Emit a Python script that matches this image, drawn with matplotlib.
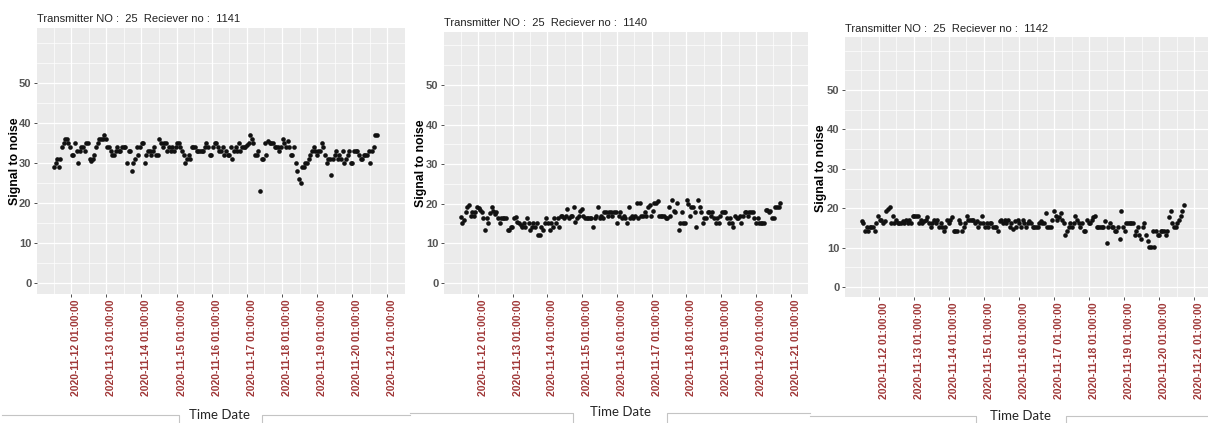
import numpy as np
import pandas as pd
import matplotlib
matplotlib.use("Agg")
import matplotlib.pyplot as plt
import matplotlib.dates as mdates
from matplotlib.lines import Line2D

plt.rcParams['font.family'] = ['Liberation Sans', 'DejaVu Sans']

W, H = 1208, 423

# signal-to-noise readings per receiver (transmitter 25)
snr_1141 = [29, 30, 31, 29, 31, 34, 35, 36, 36, 35, 34, 32, 32, 35, 33, 30, 33, 34, 34, 33,
            35, 35, 31, 30.5, 31, 32, 34, 35, 36, 36, 36, 37, 36, 34, 34, 33, 32, 32, 33, 34,
            33, 33, 34, 34, 34, 30, 33, 33, 28, 30, 31, 34, 32, 34, 35, 35, 30, 32, 33, 33,
            32, 33, 34, 32, 32, 36, 35, 34, 35, 35, 33, 34, 33, 34, 33, 34, 35, 35, 34, 33,
            32, 30, 31, 32, 31, 34, 34, 34, 33, 33, 33, 33, 33, 34, 35, 34, 32, 32, 34, 35,
            35, 34, 33, 33, 34, 32, 33, 32, 32, 34, 31, 33, 34, 33, 35, 33, 34, 34, 34, 34.5,
            35, 37, 36, 35, 32, 32, 33, 23, 31, 31, 35, 32, 35.5, 35, 35, 35, 34, 34, 34, 33,
            34, 36, 35, 34, 35.5, 34, 32, 32, 34, 30, 28, 26, 25, 29, 29, 30, 30, 31, 32, 33,
            34, 33, 32, 33, 33, 35, 34, 32, 30, 31, 31, 27, 31, 32, 33, 31, 32, 31, 33, 30,
            31, 32, 33, 30, 30, 33, 33, 33, 32, 31, 31, 32, 32, 32, 33, 30, 33, 34, 37, 37]

snr_1140 = [16.7, 15.2, 16.0, 18.0, 19.2, 19.6, 17.0, 18.0, 17.0, 18.0, 19.2, 19.0, 18.5, 18.0, 16.3,
            13.3, 16.3, 15.2, 17.7, 19.2, 18.2, 17.3, 18.0, 16.3, 15.2, 16.3, 16.3, 16.3, 16.3, 13.3,
            13.3, 14.2, 14.2, 16.3, 16.7, 15.4, 15.2, 14.6, 14.2, 15.2, 14.2, 16.3, 15.2, 13.3, 14.2,
            15.2, 14.2, 15.2, 12.1, 12.1, 14.2, 13.3, 15.2, 16.3, 15.2, 13.3, 15.2, 14.2, 16.3, 15.2,
            16.3, 14.2, 17.0, 17.0, 16.3, 17.0, 18.7, 16.3, 17.0, 17.0, 19.2, 15.4, 16.3, 17.0, 18.3,
            18.7, 17.0, 16.3, 16.3, 16.3, 16.3, 16.3, 14.2, 16.3, 17.0, 19.2, 16.3, 17.0, 16.3, 18.0,
            18.0, 17.0, 18.0, 18.0, 17.0, 18.0, 18.0, 15.2, 17.0, 18.0, 16.3, 17.0, 16.3, 15.2, 19.2,
            16.3, 17.0, 16.3, 17.0, 20.2, 16.3, 20.2, 17.0, 17.0, 18.0, 17.0, 19.2, 19.6, 17.0, 18.3,
            20.2, 20.2, 20.7, 17.0, 17.0, 17.0, 17.0, 16.3, 16.3, 19.2, 17.0, 21.0, 18.3, 18.0, 20.2,
            13.3, 15.2, 18.0, 15.2, 15.2, 21.0, 20.0, 17.0, 19.2, 19.2, 18.0, 14.2, 21.0, 19.2, 18.0,
            15.2, 16.3, 16.3, 18.0, 18.0, 17.0, 18.0, 16.3, 15.2, 16.3, 15.2, 17.0, 18.0, 18.0, 18.0,
            16.3, 15.2, 16.3, 15.2, 14.2, 17.0, 16.3, 16.3, 17.0, 15.2, 17.0, 18.0, 18.0, 17.0, 18.0,
            18.0, 18.0, 16.3, 15.2, 16.3, 15.2, 15.2, 15.2, 15.2, 18.5, 18.5, 18.0, 18.3, 16.3, 16.3,
            19.2, 19.2, 19.2, 20.2]

snr_1142 = [16.7, 16.2, 14.2, 15.2, 14.2, 15.2, 15.2, 15.2, 14.2, 16.2, 18.1, 17.0, 17.0, 16.2, 16.7,
            19.2, 19.8, 20.2, 16.2, 18.1, 16.2, 17.0, 16.2, 16.2, 16.2, 16.7, 16.2, 17.0, 16.2, 17.0,
            16.2, 18.1, 18.1, 18.1, 18.1, 16.2, 17.0, 16.2, 16.7, 17.0, 17.8, 16.2, 15.2, 16.2, 17.0,
            16.2, 17.0, 15.2, 16.2, 15.2, 14.2, 15.2, 17.0, 16.2, 17.0, 17.8, 14.2, 14.2, 14.2, 17.0,
            16.2, 14.2, 15.2, 16.2, 18.1, 17.0, 17.0, 17.0, 17.0, 16.2, 16.7, 15.2, 16.2, 18.1, 16.2,
            15.2, 16.2, 15.2, 16.2, 16.2, 15.2, 15.2, 15.2, 14.2, 16.7, 17.0, 16.2, 17.0, 16.2, 17.0,
            15.2, 16.2, 14.8, 16.7, 15.2, 17.0, 16.2, 15.2, 17.0, 16.2, 15.2, 16.2, 16.7, 16.2, 15.2,
            15.2, 15.2, 15.2, 16.2, 16.7, 16.2, 16.2, 18.7, 15.2, 15.2, 15.2, 17.0, 19.2, 18.1, 17.0,
            17.8, 18.7, 17.0, 16.2, 13.3, 14.2, 15.2, 16.2, 15.2, 16.2, 18.1, 17.0, 16.2, 15.2, 16.2,
            14.2, 14.2, 17.0, 16.2, 16.2, 17.0, 17.8, 18.1, 15.2, 15.2, 15.2, 15.2, 15.2, 16.7, 11.2,
            15.2, 16.2, 15.2, 15.2, 14.2, 14.2, 15.2, 12.2, 19.2, 15.2, 14.2, 16.2, 16.2, 16.2, 16.2,
            16.2, 13.3, 14.2, 15.2, 13.3, 12.2, 15.2, 16.2, 13.3, 11.7, 10.2, 10.2, 14.2, 10.2, 14.2,
            13.3, 13.3, 14.2, 14.2, 14.2, 13.3, 14.2, 17.7, 19.2, 16.2, 15.2, 15.2, 16.2, 17.0, 18.1,
            19.2, 20.8]

receivers = ["1141", "1140", "1142"]
series = [snr_1141, snr_1140, snr_1142]
first_sample = "2020-11-11 13:15"
last_sample = "2020-11-20 17:45"
tick_dates = pd.date_range("2020-11-12 01:00", "2020-11-21 01:00", freq="D")
minor_dates = pd.date_range("2020-11-11 13:00", "2020-11-21 13:00", freq="D")
y_breaks = [0, 10, 20, 30, 40, 50]
y_minor = [5, 15, 25, 35, 45, 55, 60]

# pixel geometry of each panel: left, right, top, bottom, x of first date tick,
# pixels per day, y of 0 and y of 50
panels = [
    (37, 405, 28, 294, 72.3, 36.4, 283, 83.3),
    (444, 808, 32, 294, 479, 35.9, 283, 85),
    (845, 1212, 37, 297, 879, 35.3, 287, 90),
]
titles_xy = [(37, 19), (444, 22.5), (845, 28.5)]
ylab_xy = [(15, 161), (421, 163), (821, 168)]
xlab_xy = [(220, 415), (620, 412), (1021, 416)]
frame_lines = [
    [[(2, 415), (179, 415), (179, 423)], [(262, 423), (262, 415), (410, 415)]],
    [[(410, 413), (573, 413), (573, 423)], [(667, 423), (667, 413), (810, 413)]],
    [[(810, 416), (976, 416), (976, 423)], [(1066, 423), (1066, 416), (1208, 416)]],
]

fig = plt.figure(figsize=(W / 100, H / 100), dpi=100)
fig.patch.set_facecolor("white")

t0 = mdates.date2num(tick_dates[0])

for i, (vals, rx) in enumerate(zip(series, receivers)):
    left, right, top, bottom, x0, d, y0, y50 = panels[i]
    ax = fig.add_axes([left / W, 1 - bottom / H, (right - left) / W, (bottom - top) / H])
    ax.set_facecolor("#EBEBEB")
    for s in ax.spines.values():
        s.set_visible(False)

    times = pd.date_range(first_sample, last_sample, periods=len(vals))
    ax.scatter(times, vals, s=11, color="#111111", linewidths=0, zorder=3)

    # limits from pixel geometry
    ax.set_xlim(t0 - (x0 - left) / d, t0 + (right - x0) / d)
    sc = (y0 - y50) / 50
    ax.set_ylim(-(bottom - y0) / sc, (y0 - top) / sc)

    ax.set_xticks(tick_dates)
    ax.set_xticks(minor_dates, minor=True)
    # left-aligned rotated labels sit just right of their tick
    ax.set_xticklabels([t.strftime("%Y-%m-%d %H:%M:%S") for t in tick_dates],
                       rotation=90, va="top", ha="left",
                       fontsize=7.5, fontweight="bold", color="#A03838")
    ax.set_yticks(y_breaks)
    ax.set_yticks(y_minor, minor=True)
    ax.set_yticklabels([str(v) for v in y_breaks], fontsize=8,
                       fontweight="bold", color="#555555")

    ax.tick_params(which="major", length=2.5, width=0.6, color="#333333", pad=1.5)
    ax.tick_params(which="minor", length=0)
    ax.grid(which="major", color="white", lw=0.9)
    ax.grid(which="minor", color="white", lw=0.5)
    ax.set_axisbelow(True)

    tx, ty = titles_xy[i]
    fig.text(tx / W, 1 - ty / H, f"Transmitter NO :  25  Reciever no :  {rx}",
             fontsize=8, color="#222222", ha="left", va="center")
    lx, ly = ylab_xy[i]
    fig.text(lx / W, 1 - ly / H, "Signal to noise", rotation=90, fontsize=8.8,
             fontweight="bold", color="black", ha="center", va="center")
    xx, xy = xlab_xy[i]
    fig.text(xx / W, 1 - xy / H, "Time Date", fontsize=9.5, color="#262626",
             ha="center", va="center", family=["Lato", "DejaVu Sans"])
    for pts in frame_lines[i]:
        xs = [p[0] / W for p in pts]
        ys = [1 - p[1] / H for p in pts]
        fig.add_artist(Line2D(xs, ys, color="#C4C4C4", lw=0.8))

fig.savefig("out.png", dpi=100, facecolor="white")
